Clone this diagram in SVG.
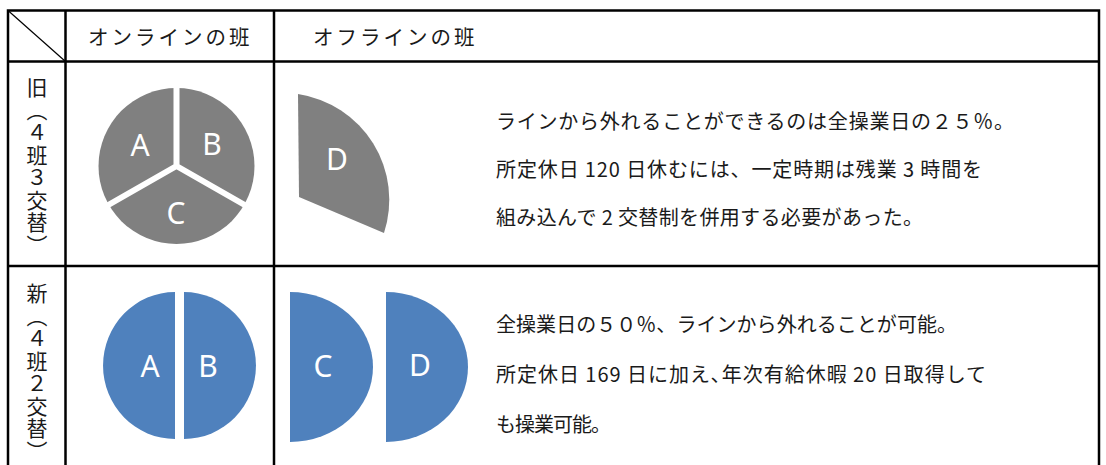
<svg xmlns="http://www.w3.org/2000/svg" width="1106" height="465" viewBox="0 0 1106 465">
<style>
.t{font-family:"Noto Sans CJK JP","Noto Sans",sans-serif;fill:#1a1a1a}
.h{font-size:20.5px;letter-spacing:3px}
.b{font-size:20px}
.v{font-size:21px;writing-mode:vertical-rl;letter-spacing:1.5px}
.lbl{font-family:"Noto Sans","Liberation Sans",sans-serif;font-size:30px;fill:#fff;text-anchor:middle;dominant-baseline:central}
.grid{stroke:#000;stroke-width:2.5;fill:none}
.gray{fill:#808080}
.blue{fill:#4F81BD}
.sep{stroke:#fff;stroke-width:6;fill:none}
</style>
<rect width="1106" height="465" fill="#fff"/>
<g id="table" class="grid">
<path d="M8,465 V10.5 H1099 V465"/>
<path d="M8,61.5 H1099 M8,266 H1099"/>
<path d="M65.5,10.5 V465 M274,10.5 V465"/>
<path d="M8,10.5 L65.5,61.5" stroke-width="1.2"/>
</g>
<g id="header">
<text class="t h" x="88" y="45">オンラインの班</text>
<text class="t h" x="313" y="45">オフラインの班</text>
</g>
<g id="rowlabels">
<text class="t v" x="37" y="77">旧（４班３交替）</text>
<text class="t v" x="37" y="283">新（４班２交替）</text>
</g>
<g id="old-online">
<circle class="gray" cx="176.5" cy="166" r="78"/>
<path class="sep" d="M176.5,166 V84 M176.5,166 L103,208 M176.5,166 L250,208"/>
<text class="lbl" x="140" y="144">A</text>
<text class="lbl" x="212" y="143">B</text>
<text class="lbl" x="176" y="212">C</text>
</g>
<g id="old-offline">
<path class="gray" d="M298,94 A107,107 0 0 1 384,233 L299,197 Z"/>
<text class="lbl" x="337" y="158">D</text>
</g>
<g id="new-online">
<path class="blue" d="M175,292 A72,73.5 0 0 0 175,439 Z"/>
<path class="blue" d="M184,292 A72,73.5 0 0 1 184,439 Z"/>
<text class="lbl" x="150" y="365">A</text>
<text class="lbl" x="208" y="365">B</text>
</g>
<g id="new-offline">
<path class="blue" d="M290,292 A83,75 0 0 1 290,442 Z"/>
<path class="blue" d="M386,292 A82,75 0 0 1 386,442 Z"/>
<text class="lbl" x="323" y="365">C</text>
<text class="lbl" x="420" y="364">D</text>
</g>
<g id="old-text">
<text class="t b" x="496" y="129" textLength="518" lengthAdjust="spacing">ラインから外れることができるのは全操業日の２５％。</text>
<text class="t b" x="496" y="177" textLength="486" lengthAdjust="spacing">所定休日 120 日休むには、一定時期は残業 3 時間を</text>
<text class="t b" x="496" y="225" textLength="427" lengthAdjust="spacing">組み込んで 2 交替制を併用する必要があった。</text>
</g>
<g id="new-text">
<text class="t b" x="496" y="332" textLength="461" lengthAdjust="spacing">全操業日の５０％、ラインから外れることが可能。</text>
<text class="t b" x="496" y="382" textLength="490" lengthAdjust="spacing">所定休日 169 日に加え､年次有給休暇 20 日取得して</text>
<text class="t b" x="496" y="432" textLength="115" lengthAdjust="spacing">も操業可能。</text>
</g>
</svg>
